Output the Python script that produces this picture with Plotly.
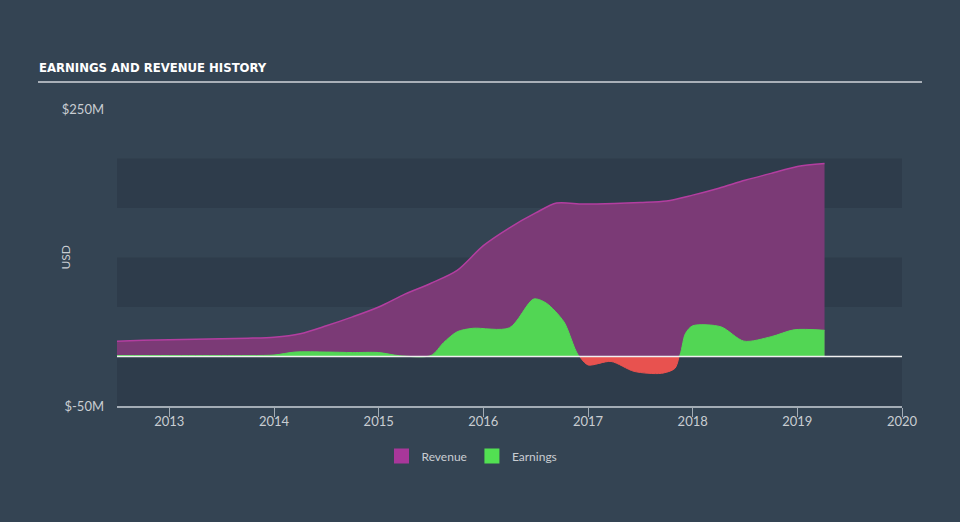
import plotly.graph_objects as go

# ---- data (values in $M) ----
rev_x = [2012.5, 2012.75, 2013.0, 2013.25, 2013.5, 2013.75, 2014.0, 2014.25, 2014.5, 2014.75,
         2015.0, 2015.25, 2015.5, 2015.75, 2016.0, 2016.25, 2016.5, 2016.7, 2016.95, 2017.25,
         2017.5, 2017.75, 2018.0, 2018.25, 2018.5, 2018.75, 2019.0, 2019.26]
rev_y = [15.5, 16.3, 17.0, 17.5, 18.0, 18.5, 19.5, 23.0, 31.0, 40.0,
         50.0, 63.0, 74.0, 87.0, 112.0, 130.0, 145.0, 155.0, 154.0, 154.5,
         155.5, 157.0, 163.0, 170.0, 178.0, 185.0, 192.0, 195.0]

ear_x = [2012.5, 2013.0, 2013.5, 2014.0, 2014.2, 2014.5, 2014.75, 2015.0, 2015.2, 2015.5,
         2015.62, 2015.75, 2015.9, 2016.25, 2016.48, 2016.6, 2016.77, 2016.92, 2017.0, 2017.22,
         2017.44, 2017.7, 2017.83, 2017.87, 2017.93, 2018.0, 2018.27, 2018.49, 2018.75, 2018.97,
         2019.26]
ear_y = [1.0, 1.0, 1.0, 1.5, 4.5, 4.5, 4.0, 4.0, 0.8, 1.0,
         14.0, 25.0, 28.5, 29.0, 58.0, 54.0, 35.0, 0.0, -8.5, -5.0,
         -15.0, -17.0, -12.0, 0.0, 23.0, 31.0, 30.0, 15.5, 20.0, 27.0,
         26.5]

x_ticks = [2013, 2014, 2015, 2016, 2017, 2018, 2019, 2020]
y_ticks = [-50, 250]
y_tick_text = ["$-50M", "$250M"]
band_edges = [-50, 0, 50, 100, 150, 200]

BG = "#344453"
BAND = "#2e3c4b"
AXIS = "#a3acb5"
TXT = "#c9cdd2"

pos_y = [max(v, 0) for v in ear_y]
neg_idx = [i for i, v in enumerate(ear_y) if v < 0]
n0, n1 = neg_idx[0] - 1, neg_idx[-1] + 1
neg_x = ear_x[n0:n1 + 1]
neg_y = [min(v, 0) for v in ear_y[n0:n1 + 1]]

fig = go.Figure()
fig.add_trace(go.Scatter(x=rev_x, y=rev_y, mode="lines", fill="tozeroy",
                         line=dict(color="#b33ea0", width=1.5, shape="spline", smoothing=0.8),
                         fillcolor="#7b3a76", showlegend=False, hoverinfo="skip"))
fig.add_trace(go.Scatter(x=ear_x, y=pos_y, mode="lines", fill="tozeroy",
                         line=dict(color="#52d654", width=1, shape="spline", smoothing=0.8),
                         fillcolor="#52d654", showlegend=False, hoverinfo="skip"))
fig.add_trace(go.Scatter(x=neg_x, y=neg_y, mode="lines", fill="tozeroy",
                         line=dict(color="#e8524f", width=1, shape="spline", smoothing=0.8),
                         fillcolor="#e8524f", showlegend=False, hoverinfo="skip"))
# legend entries
fig.add_trace(go.Scatter(x=[None], y=[None], mode="markers", name="Revenue",
                         marker=dict(symbol="square", size=15, color="#a8379a")))
fig.add_trace(go.Scatter(x=[None], y=[None], mode="markers", name="Earnings",
                         marker=dict(symbol="square", size=15, color="#52e052")))

shapes = []
for i in range(0, len(band_edges) - 1, 2):
    shapes.append(dict(type="rect", xref="x", yref="y", x0=2012.5, x1=2020,
                       y0=band_edges[i], y1=band_edges[i + 1],
                       fillcolor=BAND, line=dict(width=0), layer="below"))
shapes.append(dict(type="line", xref="x", yref="y", x0=2012.5, x1=2020, y0=0, y1=0,
                   line=dict(color="#f0f0f0", width=1.5), layer="above"))
shapes.append(dict(type="line", xref="paper", yref="paper",
                   x0=(38 - 117) / 785, x1=(922 - 117) / 785,
                   y0=(406 - 82) / 297, y1=(406 - 82) / 297,
                   line=dict(color="#a9b0b8", width=2)))

annotations = [
    dict(text="<b>EARNINGS AND REVENUE HISTORY</b>", xref="paper", yref="paper",
         x=(37 - 117) / 785, y=(406 - 67) / 297, xanchor="left", yanchor="middle",
         showarrow=False,
         font=dict(family="DejaVu Sans Condensed, Roboto, sans-serif",
                   size=13, color="#ffffff")),
    dict(text="USD", xref="paper", yref="paper", x=(65 - 117) / 785, y=0.5,
         xanchor="center", yanchor="middle", textangle=-90, showarrow=False,
         font=dict(family="Lato, sans-serif", size=12, color=TXT)),
]

fig.update_layout(
    width=960, height=522,
    margin=dict(l=117, r=58, t=109, b=116),
    paper_bgcolor=BG, plot_bgcolor=BG,
    shapes=shapes, annotations=annotations,
    font=dict(family="Lato, sans-serif", size=12, color=TXT),
    legend=dict(orientation="h", x=(472 - 117) / 785, y=(406 - 456) / 297,
                xanchor="center", yanchor="middle", bgcolor="rgba(0,0,0,0)",
                font=dict(size=12, color=TXT), itemwidth=30),
    xaxis=dict(range=[2012.5, 2020], tickvals=x_ticks, showgrid=False, zeroline=False,
               showline=True, linecolor=AXIS, linewidth=1.5, ticks="outside",
               ticklen=9, tickcolor=AXIS, tickwidth=1, ticklabelstandoff=-6,
               tickfont=dict(size=13, color=TXT)),
    yaxis=dict(range=[-50, 250], tickvals=y_ticks, ticktext=y_tick_text, showgrid=False,
               zeroline=False, showline=False, ticks="", ticklabelstandoff=12,
               tickfont=dict(size=13, color=TXT)),
)

fig.write_html("out.html")
